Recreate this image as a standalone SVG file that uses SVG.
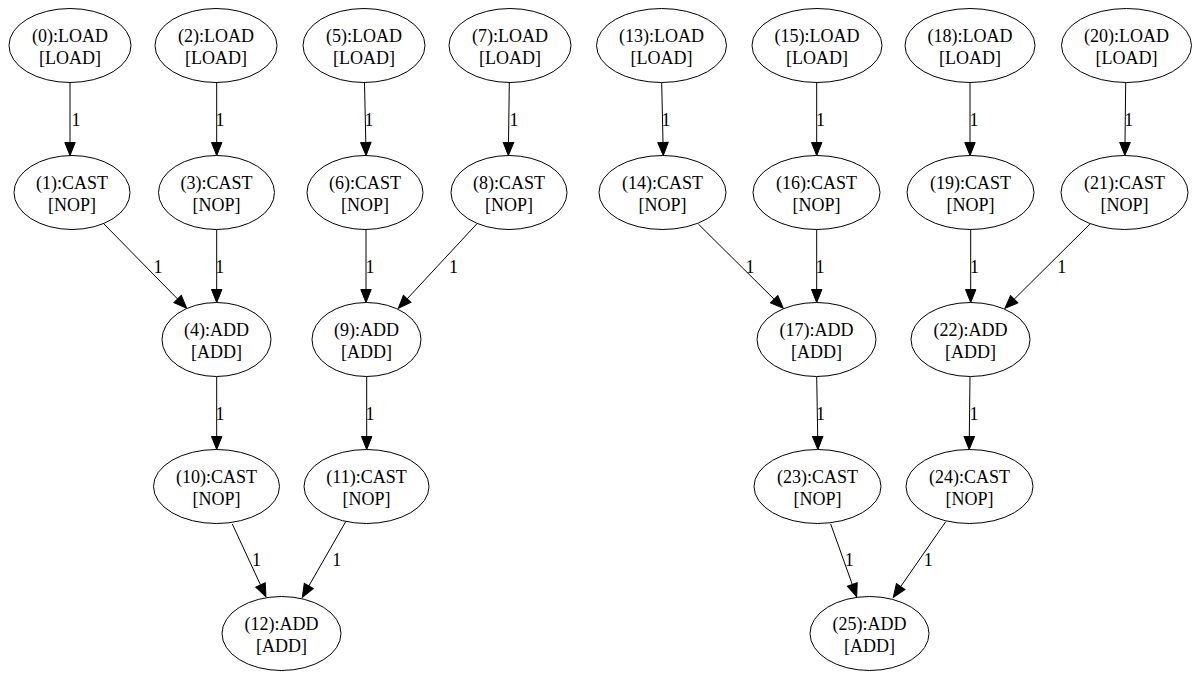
<svg xmlns="http://www.w3.org/2000/svg" width="1198" height="679" viewBox="0 0 1198 679">
<style>
.n ellipse{fill:#fff;stroke:#000;stroke-width:1}
text{font-family:"Liberation Serif","Times New Roman",serif;font-size:18px;fill:#000;text-anchor:middle}
.e line{stroke:#000;stroke-width:1;fill:none;marker-end:url(#ah)}
</style>
<defs>
<marker id="ah" markerUnits="userSpaceOnUse" markerWidth="14" markerHeight="12" refX="0" refY="6" orient="auto" overflow="visible">
<path d="M0,0.8 L13,6 L0,11.2 z" fill="#000" stroke="#000" stroke-width="1"/>
</marker>
</defs>
<rect width="1198" height="679" fill="#fff"/>
<g id="edges" class="e">
<line x1="70" y1="82.5" x2="70" y2="142.5"/>
<line x1="216.7" y1="82.5" x2="216.7" y2="142.5"/>
<line x1="364.5" y1="82.5" x2="365.8" y2="142.5"/>
<line x1="509.3" y1="82.5" x2="508.5" y2="142.5"/>
<line x1="661.7" y1="82.5" x2="663" y2="142.5"/>
<line x1="816.7" y1="82.5" x2="816.7" y2="142.5"/>
<line x1="970" y1="82.5" x2="970" y2="142.5"/>
<line x1="1125.7" y1="82.5" x2="1125" y2="142.5"/>
<line x1="104" y1="224" x2="177.6" y2="299"/>
<line x1="216.7" y1="229.5" x2="216.7" y2="289.5"/>
<line x1="366" y1="229.5" x2="366" y2="289.5"/>
<line x1="476.7" y1="224" x2="407.2" y2="298.8"/>
<line x1="698.3" y1="224" x2="774.1" y2="299.2"/>
<line x1="816.7" y1="229.5" x2="816.7" y2="289.5"/>
<line x1="970.7" y1="229.5" x2="970.7" y2="289.5"/>
<line x1="1090" y1="224" x2="1014.2" y2="299.2"/>
<line x1="216.7" y1="376.5" x2="216.7" y2="436.5"/>
<line x1="366.7" y1="376.5" x2="366.7" y2="436.5"/>
<line x1="816.7" y1="376.5" x2="817.7" y2="436.5"/>
<line x1="970" y1="376.5" x2="969.3" y2="436.5"/>
<line x1="232.3" y1="524" x2="260.5" y2="584.9"/>
<line x1="345.7" y1="521.7" x2="308.8" y2="586"/>
<line x1="830.7" y1="524" x2="852.3" y2="584.5"/>
<line x1="945.7" y1="521.7" x2="900.7" y2="586.6"/>
<g id="edge-labels">
<text x="76" y="126">1</text>
<text x="220" y="126">1</text>
<text x="369" y="126">1</text>
<text x="514" y="126">1</text>
<text x="666" y="126">1</text>
<text x="820.5" y="126">1</text>
<text x="974" y="126">1</text>
<text x="1128.7" y="126">1</text>
<text x="158" y="273">1</text>
<text x="219.7" y="273">1</text>
<text x="370" y="273">1</text>
<text x="453.5" y="273">1</text>
<text x="750" y="273">1</text>
<text x="820" y="273">1</text>
<text x="974.5" y="273">1</text>
<text x="1061.7" y="273">1</text>
<text x="220" y="420">1</text>
<text x="370" y="420">1</text>
<text x="820.5" y="420">1</text>
<text x="974" y="420">1</text>
<text x="256.5" y="566">1</text>
<text x="336.7" y="566">1</text>
<text x="849.3" y="566">1</text>
<text x="928.3" y="566">1</text>
</g>
</g>
<g id="n0" class="n"><ellipse cx="70" cy="45.5" rx="61" ry="37"/><text x="70" y="42">(0):LOAD</text><text x="70" y="64">[LOAD]</text></g>
<g id="n2" class="n"><ellipse cx="216" cy="45.5" rx="61" ry="37"/><text x="216" y="42">(2):LOAD</text><text x="216" y="64">[LOAD]</text></g>
<g id="n5" class="n"><ellipse cx="364" cy="45.5" rx="61" ry="37"/><text x="364" y="42">(5):LOAD</text><text x="364" y="64">[LOAD]</text></g>
<g id="n7" class="n"><ellipse cx="510" cy="45.5" rx="61" ry="37"/><text x="510" y="42">(7):LOAD</text><text x="510" y="64">[LOAD]</text></g>
<g id="n13" class="n"><ellipse cx="661.5" cy="45.5" rx="65" ry="37"/><text x="661.5" y="42">(13):LOAD</text><text x="661.5" y="64">[LOAD]</text></g>
<g id="n15" class="n"><ellipse cx="817" cy="45.5" rx="65" ry="37"/><text x="817" y="42">(15):LOAD</text><text x="817" y="64">[LOAD]</text></g>
<g id="n18" class="n"><ellipse cx="970" cy="45.5" rx="65" ry="37"/><text x="970" y="42">(18):LOAD</text><text x="970" y="64">[LOAD]</text></g>
<g id="n20" class="n"><ellipse cx="1126.5" cy="45.5" rx="65" ry="37"/><text x="1126.5" y="42">(20):LOAD</text><text x="1126.5" y="64">[LOAD]</text></g>
<g id="n1" class="n"><ellipse cx="72" cy="192.5" rx="58" ry="37"/><text x="72" y="189">(1):CAST</text><text x="72" y="211">[NOP]</text></g>
<g id="n3" class="n"><ellipse cx="216.5" cy="192.5" rx="58" ry="37"/><text x="216.5" y="189">(3):CAST</text><text x="216.5" y="211">[NOP]</text></g>
<g id="n6" class="n"><ellipse cx="365" cy="192.5" rx="58" ry="37"/><text x="365" y="189">(6):CAST</text><text x="365" y="211">[NOP]</text></g>
<g id="n8" class="n"><ellipse cx="509" cy="192.5" rx="58" ry="37"/><text x="509" y="189">(8):CAST</text><text x="509" y="211">[NOP]</text></g>
<g id="n14" class="n"><ellipse cx="662.5" cy="192.5" rx="63.5" ry="37"/><text x="662.5" y="189">(14):CAST</text><text x="662.5" y="211">[NOP]</text></g>
<g id="n16" class="n"><ellipse cx="816.5" cy="192.5" rx="63.5" ry="37"/><text x="816.5" y="189">(16):CAST</text><text x="816.5" y="211">[NOP]</text></g>
<g id="n19" class="n"><ellipse cx="970.5" cy="192.5" rx="63.5" ry="37"/><text x="970.5" y="189">(19):CAST</text><text x="970.5" y="211">[NOP]</text></g>
<g id="n21" class="n"><ellipse cx="1124.5" cy="192.5" rx="63.5" ry="37"/><text x="1124.5" y="189">(21):CAST</text><text x="1124.5" y="211">[NOP]</text></g>
<g id="n4" class="n"><ellipse cx="216.5" cy="339.5" rx="54.5" ry="37"/><text x="216.5" y="336">(4):ADD</text><text x="216.5" y="358">[ADD]</text></g>
<g id="n9" class="n"><ellipse cx="366.5" cy="339.5" rx="54.5" ry="37"/><text x="366.5" y="336">(9):ADD</text><text x="366.5" y="358">[ADD]</text></g>
<g id="n17" class="n"><ellipse cx="816.5" cy="339.5" rx="59.5" ry="37"/><text x="816.5" y="336">(17):ADD</text><text x="816.5" y="358">[ADD]</text></g>
<g id="n22" class="n"><ellipse cx="970.5" cy="339.5" rx="59.5" ry="37"/><text x="970.5" y="336">(22):ADD</text><text x="970.5" y="358">[ADD]</text></g>
<g id="n10" class="n"><ellipse cx="216.5" cy="486.5" rx="63" ry="37"/><text x="216.5" y="483">(10):CAST</text><text x="216.5" y="505">[NOP]</text></g>
<g id="n11" class="n"><ellipse cx="366.5" cy="486.5" rx="62.5" ry="37"/><text x="366.5" y="483">(11):CAST</text><text x="366.5" y="505">[NOP]</text></g>
<g id="n23" class="n"><ellipse cx="817.5" cy="486.5" rx="63.5" ry="37"/><text x="817.5" y="483">(23):CAST</text><text x="817.5" y="505">[NOP]</text></g>
<g id="n24" class="n"><ellipse cx="969.5" cy="486.5" rx="63.5" ry="37"/><text x="969.5" y="483">(24):CAST</text><text x="969.5" y="505">[NOP]</text></g>
<g id="n12" class="n"><ellipse cx="281.5" cy="633.5" rx="59.5" ry="37"/><text x="281.5" y="630">(12):ADD</text><text x="281.5" y="652">[ADD]</text></g>
<g id="n25" class="n"><ellipse cx="869.5" cy="633.5" rx="59.5" ry="37"/><text x="869.5" y="630">(25):ADD</text><text x="869.5" y="652">[ADD]</text></g>
</svg>
